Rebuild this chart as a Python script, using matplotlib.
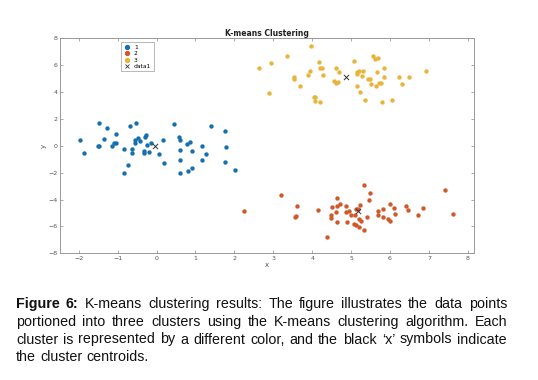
import matplotlib
matplotlib.use("Agg")
import matplotlib.pyplot as plt
from matplotlib.lines import Line2D

# --- datos ---
x1 = [-1.97, -1.87, -1.48, -1.26, -1.35, -1.51, -1.49, -1.15, -1.09, -1.04, -1.03,
      -0.67, -0.53, -0.84, -0.63, -0.64, -0.74, -0.83, -0.56, -0.55, -0.48, -0.42,
      -0.29, -0.27, -0.24, -0.15, -0.31, -0.33, -0.19, 0.07, 0.16, 0.18, 0.45, 0.59,
      0.60, 0.60, 0.60, 0.60, 0.79, 0.87, 0.92, 0.81, 0.92, 1.17, 1.17, 1.27, 1.39,
      1.76, 1.79, 1.77, 2.02]
y1 = [0.42, -0.52, 1.68, 1.31, 0.47, 0.02, 0.02, 0.02, 0.22, 0.86, 0.20,
      1.48, 1.68, -0.27, -0.27, -0.57, -1.46, -2.02, 0.20, 0.40, 0.57, 0.35,
      0.69, 0.81, 0.05, 0.20, -0.40, -0.57, -0.49, -0.59, 0.42, -1.28, 1.60, 0.62,
      0.44, -0.32, -1.09, -2.05, 0.15, 0.27, -0.42, -1.88, -1.65, -0.02, -1.06, -0.62, 1.46,
      1.11, -0.12, -1.21, -1.78]

x2 = [2.25, 3.20, 3.61, 3.56, 3.59, 4.16, 4.38, 4.51, 4.48, 4.48, 4.64, 4.63, 4.60,
      4.64, 4.72, 4.88, 4.86, 4.94, 4.99, 4.90, 5.08, 5.12, 5.19, 5.11, 5.13, 5.18,
      5.24, 5.20, 5.26, 5.32, 5.33, 5.40, 5.47, 5.49, 5.68, 5.68, 5.83, 5.82, 5.99,
      5.96, 5.99, 6.09, 6.13, 6.40, 6.45, 6.73, 6.85, 7.42, 7.62]
y2 = [-4.86, -3.65, -4.49, -5.31, -5.26, -4.79, -6.79, -4.59, -5.14, -5.41, -3.88, -4.47, -4.89,
      -5.68, -4.30, -4.49, -4.94, -4.86, -5.14, -5.70, -5.83, -5.93, -6.05, -5.14, -4.67, -4.74,
      -4.44, -5.43, -5.56, -2.94, -6.25, -5.33, -4.00, -3.51, -4.84, -5.16, -4.69, -5.31, -4.32,
      -5.46, -5.58, -4.62, -5.06, -4.49, -4.77, -5.14, -4.64, -3.28, -5.09]

x3 = [2.64, 2.89, 2.94, 3.34, 3.98, 3.53, 3.54, 3.69, 3.90, 3.95, 4.17, 4.21, 4.26,
      4.28, 4.04, 4.08, 4.06, 4.20, 4.56, 4.61, 4.67, 4.60, 4.68, 5.08, 5.15, 5.15,
      5.21, 5.30, 5.29, 5.16, 5.22, 5.35, 5.44, 5.49, 5.51, 5.57, 5.61, 5.69, 5.66,
      5.65, 5.71, 5.78, 5.80, 5.84, 5.85, 6.06, 6.22, 6.30, 6.48, 6.93]
y3 = [5.82, 3.91, 6.14, 6.68, 7.43, 5.15, 5.00, 4.45, 5.27, 5.59, 6.26, 5.79, 5.79,
      5.25, 3.66, 3.66, 3.34, 3.26, 4.80, 4.70, 4.78, 5.82, 5.52, 6.34, 5.34, 5.52,
      5.54, 5.54, 5.21, 4.45, 3.98, 3.41, 5.00, 4.98, 4.58, 6.68, 6.46, 6.54, 5.49,
      4.43, 4.70, 4.67, 3.29, 5.15, 5.82, 3.41, 5.15, 4.63, 5.15, 5.59]

cx = [-0.03, 5.17, 4.87]
cy = [-0.05, -4.86, 5.10]

xticks = [-2, -1, 0, 1, 2, 3, 4, 5, 6, 7, 8]
yticks = [-8, -6, -4, -2, 0, 2, 4, 6, 8]
labels = ["1", "2", "3", "data1"]

caption = [
    "Figure 6: K-means clustering results: The figure illustrates the data points",
    "portioned into three clusters using the K-means clustering algorithm. Each",
    "cluster is represented by a different color, and the black \u2018x\u2019 symbols indicate",
    "the cluster centroids.",
]

colores = ["#1570ad", "#d0582a", "#e8b53a"]
W, H = 538, 380

fig = plt.figure(figsize=(W / 100, H / 100), dpi=100)
ax = fig.add_axes([60 / W, 1 - 253.3 / H, 413.7 / W, 215 / H])

for xs, ys, c, lab in zip([x1, x2, x3], [y1, y2, y3], colores, labels):
    ax.scatter(xs, ys, s=10, color=c, linewidths=0, label=lab, zorder=2)
ax.scatter(cx, cy, s=14, marker="x", color="#333333", linewidths=0.7, label=labels[3], zorder=3)

ax.set_xlim(-2.48, 8.15)
ax.set_ylim(-8, 8)
ax.set_xticks(xticks)
ax.set_yticks(yticks)
ax.tick_params(direction="in", length=2.5, width=0.5, labelsize=4.5, colors="#888888",
               labelcolor="#555555", top=True, right=True, pad=2)
for sp in ax.spines.values():
    sp.set_color("#999999")
    sp.set_linewidth(0.7)

ax.set_title("K-means Clustering", fontsize=5.5, fontweight="bold", color="#222222", pad=2)
ax.set_xlabel("x", fontsize=5, color="#555555", labelpad=1)
ax.set_ylabel("y", fontsize=5, color="#555555", labelpad=0.5, rotation=90)

handles = [Line2D([], [], marker="o", ls="", color=c, markersize=2.8) for c in colores]
handles.append(Line2D([], [], marker="x", ls="", color="#333333", markersize=3, markeredgewidth=0.6))
leg = ax.legend(handles, labels, loc="upper left", bbox_to_anchor=(0.147, 0.981), fontsize=4.3,
                frameon=True, fancybox=False, handletextpad=0.6, borderpad=0.4,
                labelspacing=0.2, handlelength=1.2, borderaxespad=0)
leg.get_frame().set_edgecolor("#999999")
leg.get_frame().set_linewidth(0.6)

# --- pie de figura justificado ---
fam = ["Liberation Sans", "DejaVu Sans"]
fs = 10.3
izq, der = 16, 507
bases = [308.3, 325.9, 343.5, 361.1]

# primero se dibujan las palabras, luego se miden y se reparten
filas = []
for i, linea in enumerate(caption):
    fila = []
    for k, p in enumerate(linea.split(" ")):
        peso = "bold" if (i == 0 and k < 2) else "normal"
        t = fig.text(0, 1 - bases[i] / H, p, fontsize=fs, fontweight=peso, family=fam,
                     va="baseline", ha="left", color="#111111")
        fila.append(t)
    filas.append(fila)
t_esp = fig.text(0, 0, "a b", fontsize=fs, family=fam)
t_sin = fig.text(0, 0, "ab", fontsize=fs, family=fam)

fig.canvas.draw()
espacio = t_esp.get_window_extent().width - t_sin.get_window_extent().width
t_esp.remove()
t_sin.remove()

for i, fila in enumerate(filas):
    anchos = [t.get_window_extent().width for t in fila]
    if i < len(filas) - 1:
        hueco = (der - izq - sum(anchos)) / (len(fila) - 1)
    else:
        hueco = espacio
    x = izq
    for t, a in zip(fila, anchos):
        t.set_x(x / W)
        x += a + hueco

fig.savefig("out.png", dpi=100)
